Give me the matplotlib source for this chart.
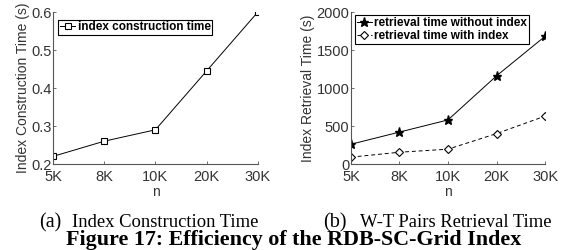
import numpy as np
import matplotlib
matplotlib.use('Agg')
import matplotlib.pyplot as plt

# data
n_labels = ['5K', '8K', '10K', '20K', '30K']
construct_time = [0.22, 0.26, 0.29, 0.445, 0.60]
retrieval_no_index = [260, 420, 580, 1160, 1680]
retrieval_index = [90, 155, 195, 400, 630]

plt.rcParams['font.family'] = ['Liberation Sans', 'DejaVu Sans']
plt.rcParams['xtick.direction'] = 'in'
plt.rcParams['ytick.direction'] = 'in'

fig = plt.figure(figsize=(5.66, 2.5), dpi=100)
ax1 = fig.add_axes([0.0936, 0.344, 0.362, 0.608])
ax2 = fig.add_axes([0.620, 0.344, 0.343, 0.608])

x = np.arange(len(n_labels))


def style(ax):
    for s in ['top', 'right']:
        ax.spines[s].set_visible(False)
    for s in ['left', 'bottom']:
        ax.spines[s].set_color('#555555')
        ax.spines[s].set_linewidth(0.8)
    ax.tick_params(length=2.5, width=0.6, color='#555555', labelsize=10.5, pad=1)
    ax.tick_params(axis='x', pad=4)
    ax.set_xticks(x)
    ax.set_xticklabels(n_labels)
    ax.set_xlim(x[0], x[-1])
    ax.set_xlabel('n', fontsize=10, color='#333333', labelpad=1)
    for lab in ax.get_xticklabels() + ax.get_yticklabels():
        lab.set_color('#333333')


ax1.plot(x, construct_time, '-', color='black', lw=0.7, marker='s', ms=5,
         mfc='white', mec='black', mew=0.8, label='index construction time')
ax1.set_ylim(0.2, 0.6)
ax1.set_yticks([0.2, 0.3, 0.4, 0.5, 0.6])
ax1.set_yticklabels(['0.2', '0.3', '0.4', '0.5', '0.6'])
ax1.set_ylabel('Index Construction Time (s)', fontsize=10, color='#333333', labelpad=1)
style(ax1)
leg1 = ax1.legend(loc='upper left', bbox_to_anchor=(0.025, 0.95), fancybox=False,
                  edgecolor='black', framealpha=1, handlelength=1.3, handletextpad=0.2,
                  borderpad=0.15, borderaxespad=0, prop={'weight': 'bold', 'size': 8.5})
leg1.get_frame().set_linewidth(0.8)

ax2.plot(x, retrieval_no_index, '-', color='black', lw=0.7, marker='*', ms=6.5,
         mfc='black', mec='black', label='retrieval time without index')
ax2.plot(x, retrieval_index, '--', color='black', lw=0.7, marker='D', ms=4.5,
         mfc='white', mec='black', mew=0.8, dashes=(4, 3), label='retrieval time with index')
ax2.set_ylim(0, 2000)
ax2.set_yticks([0, 500, 1000, 1500, 2000])
ax2.set_ylabel('Index Retrieval Time (s)', fontsize=10, color='#333333', labelpad=1)
style(ax2)
leg2 = ax2.legend(loc='upper left', bbox_to_anchor=(0.02, 0.98), fancybox=False,
                  edgecolor='black', framealpha=1, handlelength=1.3, handletextpad=0.2,
                  borderpad=0.15, borderaxespad=0, labelspacing=0.1,
                  prop={'weight': 'bold', 'size': 8.5})
leg2.get_frame().set_linewidth(0.8)

serif = ['Liberation Serif', 'DejaVu Serif']
fig.text(0.069, 0.092, '(a)', family=serif, fontsize=14.5, va='baseline')
fig.text(0.127, 0.092, 'Index Construction Time', family=serif, fontsize=13.4, va='baseline')
fig.text(0.571, 0.092, '(b)', family=serif, fontsize=14.5, va='baseline')
fig.text(0.636, 0.092, 'W-T Pairs Retrieval Time', family=serif, fontsize=13.4, va='baseline')
fig.text(0.518, 0.02, 'Figure 17: Efficiency of the RDB-SC-Grid Index', family=serif,
         fontsize=15.8, weight='bold', ha='center', va='baseline')

plt.savefig('out.png', dpi=100)
